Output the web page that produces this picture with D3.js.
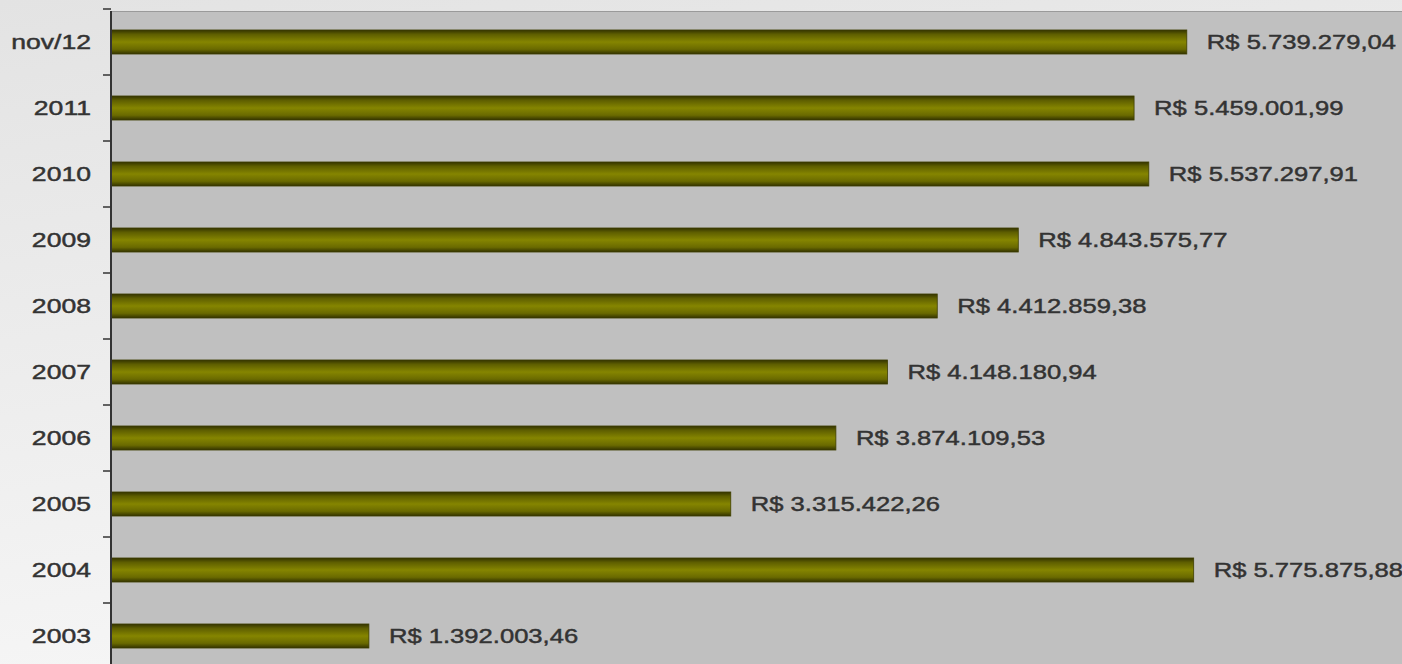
<!DOCTYPE html>
<html>
<head>
<meta charset="utf-8">
<script src="https://cdn.jsdelivr.net/npm/d3@7"></script>
<style>
  html, body { margin: 0; padding: 0; overflow: hidden; background: #eeeeee; }
  svg { display: block; }
  text { font-family: "Liberation Sans", Arial, sans-serif; }
</style>
</head>
<body>
<div id="chart"></div>
<script>
// categories, top to bottom
var periods = ["nov/12", "2011", "2010", "2009", "2008", "2007", "2006", "2005", "2004", "2003"];
// yearly values (R$)
var values = [5739279.04, 5459001.99, 5537297.91, 4843575.77, 4412859.38, 4148180.94, 3874109.53, 3315422.26, 5775875.88, 1392003.46];
// value labels as printed on the chart
var valueLabels = ["R$ 5.739.279,04", "R$ 5.459.001,99", "R$ 5.537.297,91", "R$ 4.843.575,77", "R$ 4.412.859,38",
  "R$ 4.148.180,94", "R$ 3.874.109,53", "R$ 3.315.422,26", "R$ 5.775.875,88", "R$ 1.392.003,46"];

var W = 1402, H = 664;
var plotLeft = 112, plotTop = 11;

var svg = d3.select("#chart").append("svg").attr("width", W).attr("height", H);
var defs = svg.append("defs");

// page background
var bg = defs.append("linearGradient").attr("id", "bg").attr("x1", 0).attr("y1", 0).attr("x2", 0.3).attr("y2", 1);
bg.append("stop").attr("offset", "0%").attr("stop-color", "#e3e3e3");
bg.append("stop").attr("offset", "100%").attr("stop-color", "#f6f6f6");
svg.append("rect").attr("width", W).attr("height", H).attr("fill", "url(#bg)");

// bar gradient (cylinder look)
var bar = defs.append("linearGradient").attr("id", "bar").attr("x1", 0).attr("y1", 0).attr("x2", 0).attr("y2", 1);
[["0%", "#333300"], ["18%", "#5e5e00"], ["50%", "#858500"], ["80%", "#6a6a00"], ["100%", "#333300"]].forEach(function (s) {
  bar.append("stop").attr("offset", s[0]).attr("stop-color", s[1]);
});

defs.append("clipPath").attr("id", "plotClip").append("rect")
  .attr("x", plotLeft).attr("y", plotTop).attr("width", W - plotLeft).attr("height", H - plotTop);

// plot area
svg.append("rect").attr("x", plotLeft).attr("y", plotTop).attr("width", W - plotLeft).attr("height", H - plotTop)
  .attr("fill", "#c0c0c0");
svg.append("line").attr("x1", plotLeft).attr("x2", W).attr("y1", plotTop + 0.5).attr("y2", plotTop + 0.5)
  .attr("stroke", "#9a9a9a").attr("stroke-width", 1);

var x = d3.scaleLinear().domain([0, 7000000]).range([107, 107 + 1317]);
var y = d3.scaleBand().domain(periods).range([9, 669]).paddingInner(0.636).paddingOuter(0.318);

var g = svg.append("g");

g.append("g").attr("clip-path", "url(#plotClip)")
  .selectAll("rect").data(periods).enter().append("rect")
  .attr("x", x(0))
  .attr("y", function (d) { return y(d); })
  .attr("width", function (d, i) { return x(values[i]) - x(0); })
  .attr("height", y.bandwidth())
  .attr("fill", "url(#bar)")
  .attr("stroke", "#3f3f00").attr("stroke-width", 0.8);

// value labels
g.selectAll(".val").data(periods).enter().append("text")
  .attr("class", "val")
  .attr("transform", function (d, i) {
    return "translate(" + (x(values[i]) + 20) + "," + (y(d) + y.bandwidth() / 2) + ") scale(1.28,1)";
  })
  .attr("dy", "0.35em")
  .attr("font-size", 20)
  .attr("fill", "#333")
  .attr("stroke", "#333").attr("stroke-width", 0.45)
  .text(function (d, i) { return valueLabels[i]; });

// category axis
var yAxis = d3.axisLeft(y).tickSize(0).tickPadding(0);
var ax = svg.append("g").attr("transform", "translate(" + plotLeft + ",0)").call(yAxis);
ax.select(".domain").remove();
ax.selectAll("text")
  .attr("x", null).attr("dy", "0.35em")
  .attr("font-size", 20).attr("fill", "#333")
  .attr("stroke", "#333").attr("stroke-width", 0.45)
  .attr("transform", "translate(-21,0) scale(1.33,1)")
  .style("font-family", "'Liberation Sans', Arial, sans-serif");

// axis line and boundary ticks
svg.append("line").attr("x1", plotLeft - 1).attr("x2", plotLeft - 1).attr("y1", plotTop).attr("y2", H)
  .attr("stroke", "#333").attr("stroke-width", 2);
var gap = (y.step() - y.bandwidth()) / 2;
svg.selectAll(".btick").data(periods).enter().append("line")
  .attr("x1", plotLeft - 9).attr("x2", plotLeft - 1)
  .attr("y1", function (d) { return y(d) - gap; })
  .attr("y2", function (d) { return y(d) - gap; })
  .attr("stroke", "#333").attr("stroke-width", 1.5);
</script>
</body>
</html>
